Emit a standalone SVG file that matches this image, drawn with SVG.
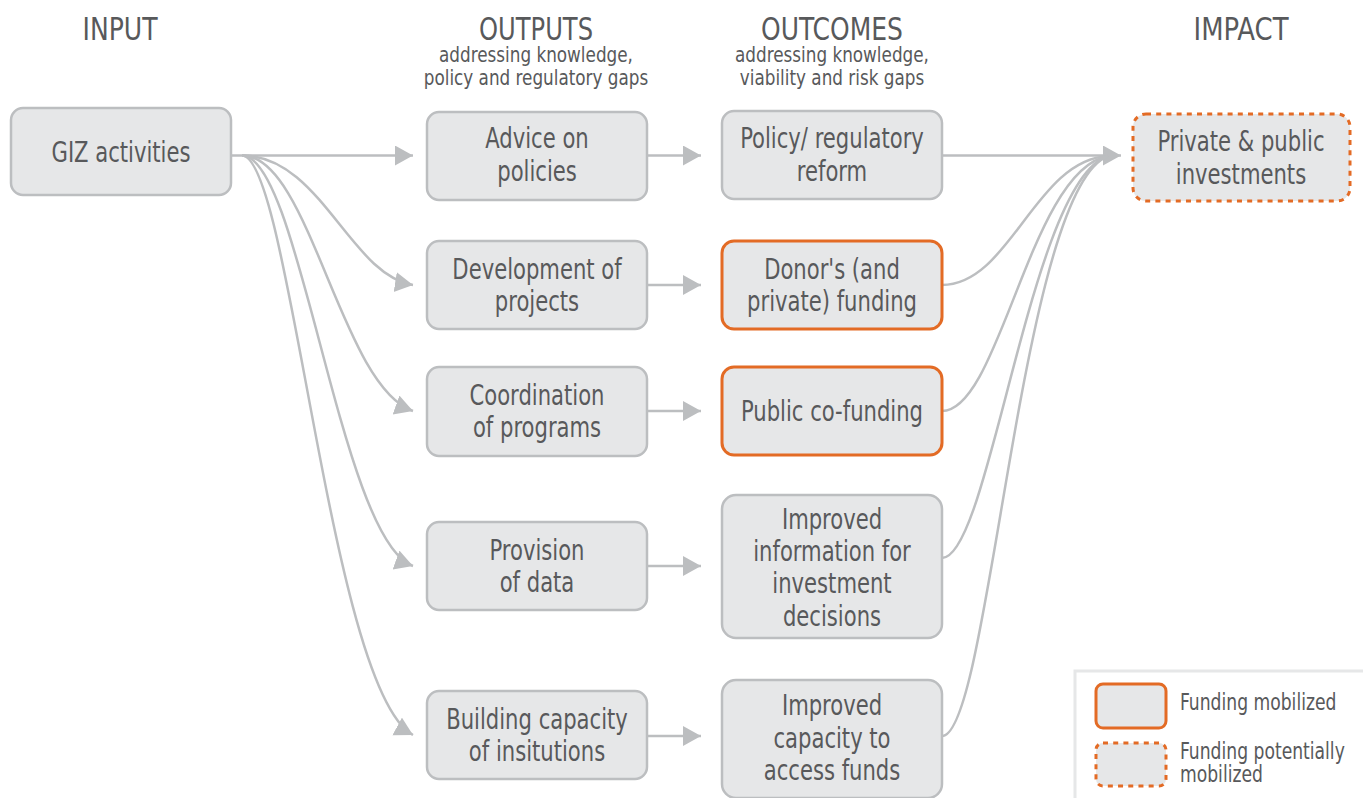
<svg xmlns="http://www.w3.org/2000/svg" width="1363" height="798" viewBox="0 0 1363 798">
<style>
text{font-family:"Liberation Sans Narrow","DejaVu Sans Condensed","DejaVu Sans",sans-serif;font-stretch:condensed;fill:#58595b;text-anchor:middle}
.h{font-size:32px}
.s{font-size:22px}
.n{font-size:29px}
.lg{font-size:23px;text-anchor:start}
.box{fill:#e6e7e8;stroke:#bcbec0;stroke-width:2.5}
.fund{fill:#e6e7e8;stroke:#e36b25;stroke-width:3}
.pot{fill:#e6e7e8;stroke:#e36b25;stroke-width:3;stroke-dasharray:5 5.2}
.c{fill:none;stroke:#bcbec0;stroke-width:2.5}
</style>
<defs>
<marker id="ah" markerUnits="userSpaceOnUse" markerWidth="20" markerHeight="22" refX="18" refY="10" orient="auto" viewBox="0 0 20 22">
<path d="M0,0 L18,10 L0,20 Z" fill="#bcbec0"/>
</marker>
</defs>
<rect width="1363" height="798" fill="#ffffff"/>

<g id="headers">
<text class="h" x="120" y="40" textLength="75" lengthAdjust="spacingAndGlyphs">INPUT</text>
<text class="h" x="536" y="40" textLength="114" lengthAdjust="spacingAndGlyphs">OUTPUTS</text>
<text class="s" transform="translate(536 0) scale(0.85 1)" x="0" y="62">addressing knowledge,</text>
<text class="s" transform="translate(536 0) scale(0.85 1)" x="0" y="85">policy and regulatory gaps</text>
<text class="h" x="832" y="40" textLength="142" lengthAdjust="spacingAndGlyphs">OUTCOMES</text>
<text class="s" transform="translate(832 0) scale(0.85 1)" x="0" y="62">addressing knowledge,</text>
<text class="s" transform="translate(832 0) scale(0.85 1)" x="0" y="85">viability and risk gaps</text>
<text class="h" x="1241" y="40" textLength="95" lengthAdjust="spacingAndGlyphs">IMPACT</text>
</g>

<g id="connectors">
<path class="c" d="M231,155.5 H413" marker-end="url(#ah)"/>
<path class="c" d="M242,155.5 C320,155 350,275 413,285" marker-end="url(#ah)"/>
<path class="c" d="M242,155.5 C310,155 340,385 413,411" marker-end="url(#ah)"/>
<path class="c" d="M242,155.5 C300,155 340,540 413,566" marker-end="url(#ah)"/>
<path class="c" d="M242,155.5 C290,155 330,690 413,735" marker-end="url(#ah)"/>
<path class="c" d="M647,155.5 H701" marker-end="url(#ah)"/>
<path class="c" d="M647,285 H701" marker-end="url(#ah)"/>
<path class="c" d="M647,411 H701" marker-end="url(#ah)"/>
<path class="c" d="M647,566 H701" marker-end="url(#ah)"/>
<path class="c" d="M647,736 H701" marker-end="url(#ah)"/>
<path class="c" d="M942,155.5 H1121" marker-end="url(#ah)"/>
<path class="c" d="M942,285 C1010,285 1035,160 1108,156"/>
<path class="c" d="M942,411 C1000,411 1030,170 1108,156"/>
<path class="c" d="M942,558 C990,558 1030,180 1108,156"/>
<path class="c" d="M942,736 C990,736 1020,190 1108,156"/>
</g>

<g id="giz">
<rect class="box" x="11" y="108" width="220" height="87" rx="12"/>
<text class="n" transform="translate(121 0) scale(0.81 1)" x="0" y="162">GIZ activities</text>
</g>

<g id="advice">
<rect class="box" x="427" y="112" width="220" height="88" rx="12"/>
<text class="n" transform="translate(537 0) scale(0.81 1)" x="0" y="148">Advice on</text>
<text class="n" transform="translate(537 0) scale(0.81 1)" x="0" y="181">policies</text>
</g>
<g id="development">
<rect class="box" x="427" y="241" width="220" height="88" rx="12"/>
<text class="n" transform="translate(537 0) scale(0.81 1)" x="0" y="279">Development of</text>
<text class="n" transform="translate(537 0) scale(0.81 1)" x="0" y="311">projects</text>
</g>
<g id="coordination">
<rect class="box" x="427" y="367" width="220" height="89" rx="12"/>
<text class="n" transform="translate(537 0) scale(0.81 1)" x="0" y="405">Coordination</text>
<text class="n" transform="translate(537 0) scale(0.81 1)" x="0" y="437">of programs</text>
</g>
<g id="provision">
<rect class="box" x="427" y="522" width="220" height="88" rx="12"/>
<text class="n" transform="translate(537 0) scale(0.81 1)" x="0" y="560">Provision</text>
<text class="n" transform="translate(537 0) scale(0.81 1)" x="0" y="592">of data</text>
</g>
<g id="building">
<rect class="box" x="427" y="691" width="220" height="88" rx="12"/>
<text class="n" transform="translate(537 0) scale(0.81 1)" x="0" y="729">Building capacity</text>
<text class="n" transform="translate(537 0) scale(0.81 1)" x="0" y="761">of insitutions</text>
</g>

<g id="policy-reform">
<rect class="box" x="722" y="111" width="220" height="88" rx="12"/>
<text class="n" transform="translate(832 0) scale(0.81 1)" x="0" y="148">Policy/ regulatory</text>
<text class="n" transform="translate(832 0) scale(0.81 1)" x="0" y="181">reform</text>
</g>
<g id="donor-funding">
<rect class="fund" x="722" y="241" width="220" height="88" rx="12"/>
<text class="n" transform="translate(832 0) scale(0.81 1)" x="0" y="279">Donor's (and</text>
<text class="n" transform="translate(832 0) scale(0.81 1)" x="0" y="311">private) funding</text>
</g>
<g id="public-cofunding">
<rect class="fund" x="722" y="367" width="220" height="88" rx="12"/>
<text class="n" transform="translate(832 0) scale(0.81 1)" x="0" y="421">Public co-funding</text>
</g>
<g id="improved-information">
<rect class="box" x="722" y="495" width="220" height="143" rx="14"/>
<text class="n" transform="translate(832 0) scale(0.81 1)" x="0" y="529">Improved</text>
<text class="n" transform="translate(832 0) scale(0.81 1)" x="0" y="561">information for</text>
<text class="n" transform="translate(832 0) scale(0.81 1)" x="0" y="593">investment</text>
<text class="n" transform="translate(832 0) scale(0.81 1)" x="0" y="626">decisions</text>
</g>
<g id="improved-capacity">
<rect class="box" x="722" y="680" width="220" height="118" rx="14"/>
<text class="n" transform="translate(832 0) scale(0.81 1)" x="0" y="715">Improved</text>
<text class="n" transform="translate(832 0) scale(0.81 1)" x="0" y="748">capacity to</text>
<text class="n" transform="translate(832 0) scale(0.81 1)" x="0" y="780">access funds</text>
</g>

<g id="impact">
<rect class="pot" x="1133" y="114" width="217" height="87" rx="13"/>
<text class="n" transform="translate(1241 0) scale(0.81 1)" x="0" y="151">Private &amp; public</text>
<text class="n" transform="translate(1241 0) scale(0.81 1)" x="0" y="184">investments</text>
</g>

<g id="legend">
<rect x="1075" y="671" width="300" height="140" fill="#ffffff" stroke="#e6e7e8" stroke-width="3"/>
<rect class="fund" x="1096" y="684" width="70" height="44" rx="7"/>
<rect class="pot" x="1096" y="743" width="70" height="43" rx="7"/>
<text class="lg" transform="translate(1180 0) scale(0.83 1)" x="0" y="710">Funding mobilized</text>
<text class="lg" transform="translate(1180 0) scale(0.83 1)" x="0" y="759">Funding potentially</text>
<text class="lg" transform="translate(1180 0) scale(0.83 1)" x="0" y="782">mobilized</text>
</g>
</svg>
